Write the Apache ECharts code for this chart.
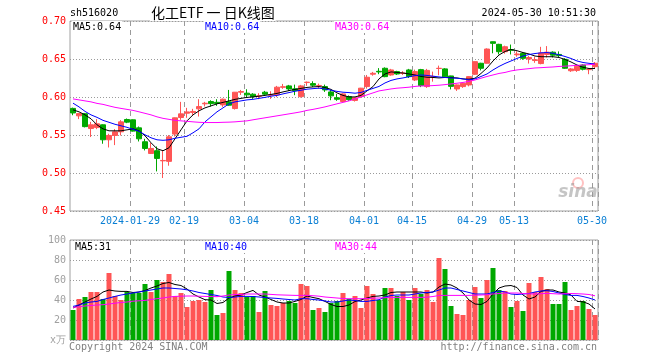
<!DOCTYPE html>
<html><head><meta charset="utf-8">
<script src="https://cdn.jsdelivr.net/npm/echarts@6/dist/echarts.min.js"></script>
<style>html,body{margin:0;padding:0;background:#fff}#c{width:660px;height:360px}</style>
</head><body><div id="c"></div>
<script>
const dates = [
'2024-01-15','2024-01-16','2024-01-17','2024-01-18','2024-01-19','2024-01-22','2024-01-23','2024-01-24','2024-01-25','2024-01-26','2024-01-29','2024-01-30','2024-01-31',
'2024-02-01','2024-02-02','2024-02-05','2024-02-06','2024-02-07','2024-02-08','2024-02-19','2024-02-20','2024-02-21','2024-02-22','2024-02-23','2024-02-26','2024-02-27','2024-02-28','2024-02-29',
'2024-03-01','2024-03-04','2024-03-05','2024-03-06','2024-03-07','2024-03-08','2024-03-11','2024-03-12','2024-03-13','2024-03-14','2024-03-15','2024-03-18','2024-03-19','2024-03-20','2024-03-21','2024-03-22','2024-03-25','2024-03-26','2024-03-27','2024-03-28','2024-03-29',
'2024-04-01','2024-04-02','2024-04-03','2024-04-08','2024-04-09','2024-04-10','2024-04-11','2024-04-12','2024-04-15','2024-04-16','2024-04-17','2024-04-18','2024-04-19','2024-04-22','2024-04-23','2024-04-24','2024-04-25','2024-04-26','2024-04-29','2024-04-30',
'2024-05-06','2024-05-07','2024-05-08','2024-05-09','2024-05-10','2024-05-13','2024-05-14','2024-05-15','2024-05-16','2024-05-17','2024-05-20','2024-05-21','2024-05-22','2024-05-23','2024-05-24','2024-05-27','2024-05-28','2024-05-29','2024-05-30'];

const open = [.585,.5752,.578,.5585,.5598,.5634,.5437,.5494,.5542,.5704,.5700,.5594,.5411,
.5257,.5293,.5160,.5153,.5512,.5730,.5787,.5797,.5844,.5910,.5940,.5930,.5896,.5936,.5848,
.6063,.6050,.6037,.6011,.6063,.6024,.6028,.6128,.6146,.6107,.6005,.6190,.6176,.6148,.6137,.6067,.5990,.5940,.6005,.5955,.6005,
.6137,.6300,.6338,.6378,.6290,.6334,.6310,.6356,.6224,.6360,.6137,.6265,.6375,.6370,.6277,.6106,.6137,.6159,.6299,.6444,
.6444,.6727,.6693,.6596,.6625,.6555,.6575,.6500,.6480,.6440,.6560,.6590,.6560,.6496,.6345,.6350,.6421,.6360,.6399];
const close = [.579,.5782,.561,.5634,.5647,.5437,.5494,.5542,.5673,.5669,.5551,.5450,.5323,
.5323,.5192,.5165,.5476,.5726,.5778,.5804,.5810,.5874,.5918,.5913,.5915,.5971,.5892,.6063,
.6072,.6028,.6005,.6015,.6037,.6030,.6129,.6135,.6106,.6084,.6146,.6195,.6155,.6152,.6093,.6015,.5970,.6041,.5965,.5990,.6116,
.6260,.6312,.6330,.6268,.6356,.6303,.6315,.6268,.6334,.6150,.6350,.6270,.6378,.6265,.6140,.6159,.6181,.6268,.6465,.6378,
.6631,.6706,.6596,.6661,.6615,.6566,.6509,.6520,.6490,.6580,.6590,.6550,.6545,.6378,.6369,.6405,.6365,.6365,.6444];
const low = [.576,.5709,.560,.5473,.5577,.5385,.5336,.5367,.5494,.5656,.5545,.5415,.5297,
.5250,.5021,.4934,.5096,.5480,.5700,.5726,.5752,.5743,.5876,.5874,.5883,.5870,.5883,.5835,
.6027,.5998,.5975,.5971,.6015,.5975,.5998,.6107,.6081,.6024,.5993,.6146,.6133,.6111,.6067,.5958,.5950,.5930,.5950,.5940,.5990,
.6110,.6280,.6300,.6260,.6280,.6290,.6290,.6250,.6210,.6130,.6120,.6202,.6286,.6250,.6100,.6080,.6120,.6140,.6290,.6350,
.6440,.6575,.6560,.6570,.6560,.6530,.6490,.6440,.6450,.6430,.6520,.6520,.6520,.6370,.6330,.6330,.6350,.6300,.6380];
const high = [.586,.5790,.579,.5673,.5709,.5640,.5516,.5578,.5696,.5717,.5705,.5612,.5450,
.5398,.5349,.5293,.5499,.5730,.5936,.5857,.5844,.5971,.5936,.5957,.5971,.5980,.6093,.6066,
.6093,.6102,.6050,.6050,.6080,.6076,.6146,.6172,.6159,.6163,.6159,.6203,.6207,.6176,.6163,.6093,.6040,.6050,.6020,.6000,.6120,
.6290,.6330,.6380,.6390,.6370,.6345,.6340,.6370,.6360,.6370,.6370,.6334,.6413,.6380,.6280,.6165,.6190,.6275,.6470,.6450,
.6640,.6730,.6700,.6675,.6690,.6600,.6590,.6540,.6530,.6660,.6670,.6600,.6600,.6510,.6380,.6420,.6430,.6380,.6460];

const ma5 = [.5831,.5805,.5765,.5713,.5634,.5581,.5555,.5555,.5555,.5568,.5581,.5555,.5490,
.5398,.5319,.5293,.5332,.5450,.5568,.5686,.5765,.5818,.5857,.5883,.5910,.5929,.5949,.5969,
.5982,.5995,.6001,.6011,.6021,.6034,.6047,.6067,.6084,.6100,.6113,.6126,.6133,.6137,.6126,.6100,.6054,.6021,.6001,.6001,.6021,
.6080,.6137,.6238,.6303,.6330,.6323,.6316,.6303,.6290,.6270,.6260,.6257,.6251,.6257,.6255,.6251,.6238,.6234,.6247,.6310,
.6382,.6474,.6553,.6599,.6625,.6609,.6585,.6566,.6539,.6530,.6530,.6530,.6520,.6494,.6461,.6421,.6391,.6375,.6375];
const ma10 = [.5919,.5870,.5811,.5765,.5732,.5693,.5667,.5641,.5621,.5601,.5575,.5549,.5503,
.5463,.5437,.5430,.5437,.5457,.5470,.5483,.5529,.5581,.5673,.5739,.5805,.5857,.5910,.5936,
.5949,.5962,.5969,.5982,.5995,.6011,.6021,.6041,.6058,.6076,.6089,.6103,.6110,.6116,.6106,.6089,.6074,.6063,.6058,.6050,.6060,
.6087,.6113,.6139,.6185,.6218,.6238,.6251,.6267,.6281,.6290,.6284,.6274,.6264,.6257,.6251,.6247,.6238,.6225,.6238,.6270,
.6303,.6356,.6402,.6441,.6474,.6507,.6539,.6559,.6572,.6581,.6585,.6575,.6556,.6533,.6507,.6474,.6454,.6443,.6434];
const ma30 = [.5975,.5962,.5949,.5936,.5916,.5903,.5883,.5864,.5850,.5837,.5824,.5805,.5785,
.5765,.5739,.5719,.5706,.5693,.5686,.5680,.5673,.5667,.5664,.5664,.5664,.5667,.5669,.5673,
.5680,.5686,.5700,.5713,.5726,.5739,.5752,.5765,.5778,.5791,.5805,.5824,.5837,.5853,.5870,.5890,.5910,.5929,.5949,.5975,.6001,
.6028,.6054,.6080,.6093,.6106,.6116,.6122,.6129,.6139,.6146,.6146,.6150,.6155,.6163,.6172,.6181,.6192,.6205,.6224,.6247,
.6270,.6290,.6310,.6323,.6343,.6356,.6365,.6373,.6382,.6386,.6391,.6395,.6402,.6406,.6411,.6417,.6421,.6425,.6431];

const volume = [30,41,43,48,48,41,67,44,40,48,47,47,56,
48,60,58,66,44,47,33,39,40,38,50,25,27,69,50,
47,43,44,28,49,35,34,37,39,37,56,54,30,32,28,37,39,47,41,44,32,
54,46,40,52,52,44,48,40,52,46,50,38,82,71,34,26,25,40,53,42,
60,72,50,49,33,39,29,57,48,63,51,36,36,58,30,34,39,31,25];
const volMa5 = [32,35,38,41,43.6,48,50,49,48.6,48.6,47.5,48,49.5,
52,54,56.5,57.5,55.5,54.5,51,46,43,40.3,40,36.5,37.5,42,44,
45,47.5,49.6,45,43,40.5,38,37,37,38.6,40.5,44,42.5,41.3,38.6,35.5,33.5,33.5,35,38.5,40,
42,43.6,44,45,47.5,48,48,48,48,48,47,48,53,56,55,52,47,40,36,35.5,
38.6,46,52,54,54.5,52.5,45,41,43,48.6,50,50,48,47,45,38.6,38.2,36,31];
const volMa10 = [33.6,35,37,38,38.6,40.5,42,43.6,45,46,47,48,49,
50,51,52,52,51.5,51,50.2,49,47.5,46.5,45.5,44.5,43,42.5,43,
43.6,43.6,43.5,43,42.5,42,41.6,41,40.5,40,41.3,41.3,40.5,40,39,38,38,39,40,39.5,38.6,
38.6,39.5,40.3,43,44.5,45,45,45,46,47,47.5,48,50,52,52,50.5,49,47.5,46,46,
46,47.5,49,48,46,45.5,46,46.5,48,49,49.3,48.5,47,45.5,44.6,44.6,43.5,42,40];
const volMa30 = [32.6,33.2,34,34.5,35,35.3,36,36.8,37.5,38,38.8,39.2,39.6,
40.5,41.3,42,43,43.6,43.8,44,44,43.8,43.6,43.5,43.3,44,45,45.5,
45.5,46,46,46,46,45.6,45.2,45,44.8,44.6,44.6,44.6,44.3,43.8,43,42.5,42,41.5,41.3,41.3,41.3,
41.5,41.8,42,42.3,42.6,42.6,42.6,42.6,42.6,42.6,42.8,43.5,44.5,44.6,44.6,44.6,44.6,44.6,44.8,45,
45.3,46,46.5,47,47,47,46.5,46.2,46,46.3,46.6,46.3,46,46.3,46.5,46.3,46,45.5,44.2];

const labelDates = ['2024-01-29','2024-02-19','2024-03-04','2024-03-18','2024-04-01','2024-04-15','2024-04-29','2024-05-13','2024-05-30'];
const tickLabels = ['2024-01-29','02-19','03-04','03-18','04-01','04-15','04-29','05-13','05-30'];
const priceTicks = {min: 0.45, max: 0.70, step: 0.05};
const volTicks = {min: 0, max: 100, step: 20};

const UP = '#ff5555', DOWN = '#00a800';
const MONO = '"DejaVu Sans Mono", "Liberation Mono", monospace';
const isTick = (i) => labelDates.indexOf(dates[i]) >= 0;
// category splitLines sit on band boundaries: the left edge of each labelled day
const vGrid = {show: true, interval: (i) => isTick(i), lineStyle: {color: '#9a9a9a', type: [5, 4], width: 1}};
const hGrid = {show: true, lineStyle: {color: '#9a9a9a', type: [1, 2], width: 1}};

const candles = dates.map((d, i) => [open[i], close[i], low[i], high[i]]);
const volData = volume.map((v, i) => ({value: v, itemStyle: {color: close[i] >= open[i] ? UP : DOWN}}));

const chart = echarts.init(document.getElementById('c'), null, {renderer: 'canvas'});
const txt = (x, y, text, color, align, font) => ({type: 'text', x: x, y: y, z: 100,
  style: {text: text, fill: color, align: align || 'left', verticalAlign: 'middle', font: font || ('10px ' + MONO),
          backgroundColor: '#fff', padding: [1, 1, 1, 1]}});

chart.setOption({
  animation: false,
  backgroundColor: '#fff',
  grid: [
    {left: 70, top: 21, width: 528, height: 190, show: true, borderColor: '#a0a0a0', borderWidth: 1},
    {left: 70, top: 240, width: 528, height: 100, show: true, borderColor: '#a0a0a0', borderWidth: 1}
  ],
  xAxis: [
    {type: 'category', gridIndex: 0, data: dates, boundaryGap: true,
     axisLine: {show: false}, axisTick: {show: false}, splitLine: vGrid,
     axisLabel: {show: true, interval: (i) => isTick(i), margin: 5, color: '#0a7fd4', fontSize: 10, fontFamily: MONO,
                 padding: [0, 6, 0, 0], formatter: (v) => tickLabels[labelDates.indexOf(v)]}},
    {type: 'category', gridIndex: 1, data: dates, boundaryGap: true,
     axisLine: {show: false}, axisTick: {show: false}, axisLabel: {show: false}, splitLine: vGrid}
  ],
  yAxis: [
    {type: 'value', gridIndex: 0, min: priceTicks.min, max: priceTicks.max, interval: priceTicks.step,
     axisLine: {show: false}, axisTick: {show: false},
     axisLabel: {color: '#ff0000', fontSize: 10, fontFamily: MONO, margin: 4, formatter: (v) => v.toFixed(2)},
     splitLine: hGrid},
    {type: 'value', gridIndex: 1, min: volTicks.min, max: volTicks.max, interval: volTicks.step,
     axisLine: {show: false}, axisTick: {show: false},
     axisLabel: {color: '#a0a0a0', fontSize: 10, fontFamily: MONO, margin: 4, formatter: (v) => v === 0 ? 'x万' : String(v)},
     splitLine: hGrid}
  ],
  series: [
    {type: 'candlestick', xAxisIndex: 0, yAxisIndex: 0, data: candles, barWidth: 5, z: 3,
     itemStyle: {color: UP, color0: DOWN, borderColor: UP, borderColor0: DOWN, borderWidth: 1}},
    {type: 'line', xAxisIndex: 0, yAxisIndex: 0, data: ma5, showSymbol: false, symbol: 'none', z: 4, lineStyle: {color: '#000', width: 1}},
    {type: 'line', xAxisIndex: 0, yAxisIndex: 0, data: ma10, showSymbol: false, symbol: 'none', z: 4, lineStyle: {color: '#0000ff', width: 1}},
    {type: 'line', xAxisIndex: 0, yAxisIndex: 0, data: ma30, showSymbol: false, symbol: 'none', z: 4, lineStyle: {color: '#ff00ff', width: 1}},
    {type: 'bar', xAxisIndex: 1, yAxisIndex: 1, data: volData, barWidth: 5, z: 3},
    {type: 'line', xAxisIndex: 1, yAxisIndex: 1, data: volMa5, showSymbol: false, symbol: 'none', z: 4, lineStyle: {color: '#000', width: 1}},
    {type: 'line', xAxisIndex: 1, yAxisIndex: 1, data: volMa10, showSymbol: false, symbol: 'none', z: 4, lineStyle: {color: '#0000ff', width: 1}},
    {type: 'line', xAxisIndex: 1, yAxisIndex: 1, data: volMa30, showSymbol: false, symbol: 'none', z: 4, lineStyle: {color: '#ff00ff', width: 1}}
  ],
  graphic: [
    txt(69, 13, 'sh516020', '#000'),
    txt(150, 13, '化工ETF 一 日K线图', '#000', 'left', '14px "Noto Sans CJK SC"'),
    txt(597, 13, '2024-05-30 10:51:30', '#000', 'right'),
    txt(72, 27, 'MA5:' + ma5[ma5.length - 1].toFixed(2), '#000'),
    txt(204, 27, 'MA10:' + ma10[ma10.length - 1].toFixed(2), '#0000ff'),
    txt(334, 27, 'MA30:' + ma30[ma30.length - 1].toFixed(2), '#ff00ff'),
    txt(74, 247, 'MA5:' + Math.round(volMa5[volMa5.length - 1]), '#000'),
    txt(204, 247, 'MA10:' + Math.round(volMa10[volMa10.length - 1]), '#0000ff'),
    txt(334, 247, 'MA30:' + Math.round(volMa30[volMa30.length - 1]), '#ff00ff'),
    {type: 'text', x: 69, y: 347, style: {text: 'Copyright 2024 SINA.COM', fill: '#808080', font: '10px ' + MONO, verticalAlign: 'middle'}},
    {type: 'text', x: 597, y: 347, style: {text: 'http://finance.sina.com.cn', fill: '#808080', font: '10px ' + MONO, align: 'right', verticalAlign: 'middle'}},
    {type: 'circle', shape: {cx: 578, cy: 183, r: 5}, style: {fill: 'none', stroke: 'rgba(255,80,80,0.35)', lineWidth: 2}, z: 50},
    {type: 'text', x: 578, y: 193, z: 50, style: {text: 'sina', fill: 'rgba(150,150,150,0.55)', font: 'italic bold 17px "DejaVu Sans"', align: 'center', verticalAlign: 'middle'}}
  ]
});
</script></body></html>
